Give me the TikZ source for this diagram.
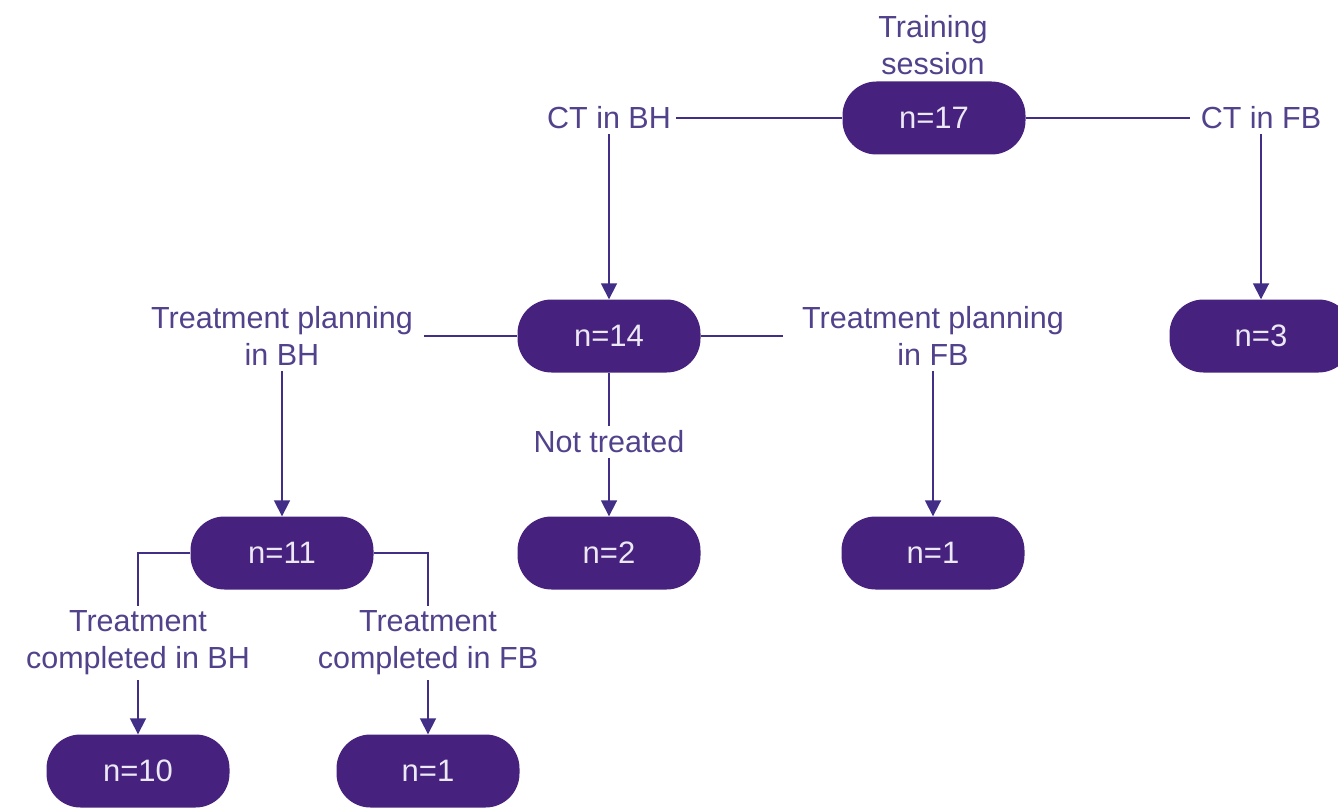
\documentclass[tikz,border=0pt]{standalone}
\usepackage{fontspec}
\setmainfont{Liberation Sans}
\usetikzlibrary{arrows.meta}
\definecolor{pillc}{RGB}{70,34,126}
\definecolor{labc}{RGB}{82,66,140}
\definecolor{linec}{RGB}{66,46,135}
\definecolor{pilltext}{RGB}{236,232,244}
\tikzset{
  pill/.style={rounded corners=34pt, fill=pillc, text=pilltext, minimum width=183pt, minimum height=73pt, inner sep=0pt, font=\fontsize{31}{36}\selectfont},
  lab/.style={text=labc, align=center, inner sep=5pt, font=\fontsize{30.5}{37}\selectfont},
  conn/.style={draw=linec, line width=1.8pt},
  arr/.style={conn, -{Triangle[width=16pt,length=16pt]}},
}
\begin{document}
\begin{tikzpicture}[x=1pt,y=-1pt]
\clip (0,0) rectangle (1338,810);
\fill[white] (0,0) rectangle (1338,810);
\node[lab] (train) at (933,45) {Training\\session};
\node[pill] (p17) at (934,118) {n=17};
\node[lab] (ctbh) at (609,118) {CT in BH};
\node[lab] (ctfb) at (1261,118) {CT in FB};
\node[pill] (p14) at (609,336) {n=14};
\node[pill] (p3) at (1261,336) {n=3};
\node[lab] (tpbh) at (282,336) {Treatment planning\\in BH};
\node[lab] (tpfb) at (933,336) {Treatment planning\\in FB};
\node[lab] (nt) at (609,442) {Not treated};
\node[pill] (p11) at (282,553) {n=11};
\node[pill] (p2) at (609,553) {n=2};
\node[pill] (p1a) at (933,553) {n=1};
\node[lab] (tcbh) at (138,643) {Treatment\\completed in BH};
\node[lab] (tcfb) at (428,643) {Treatment\\completed in FB};
\node[pill] (p10) at (138,771) {n=10};
\node[pill] (p1b) at (428,771) {n=1};

\draw[conn] (ctbh.east) -- (p17.west);
\draw[conn] (p17.east) -- ([xshift=-6pt]ctfb.west);
\draw[arr] (ctbh.south) -- (p14.north);
\draw[arr] (ctfb.south) -- (p3.north);
\draw[conn] ([xshift=6pt]tpbh.east) -- (p14.west);
\draw[conn] (p14.east) -- ([xshift=-14pt]tpfb.west);
\draw[arr] (tpbh.south) -- (p11.north);
\draw[arr] (tpfb.south) -- (p1a.north);
\draw[conn] (p14.south) -- (nt.north);
\draw[arr] (nt.south) -- (p2.north);
\draw[conn] (p11.west) -| (tcbh.north);
\draw[conn] (p11.east) -| (tcfb.north);
\draw[arr] (tcbh.south) -- (p10.north);
\draw[arr] (tcfb.south) -- (p1b.north);
\end{tikzpicture}
\end{document}
